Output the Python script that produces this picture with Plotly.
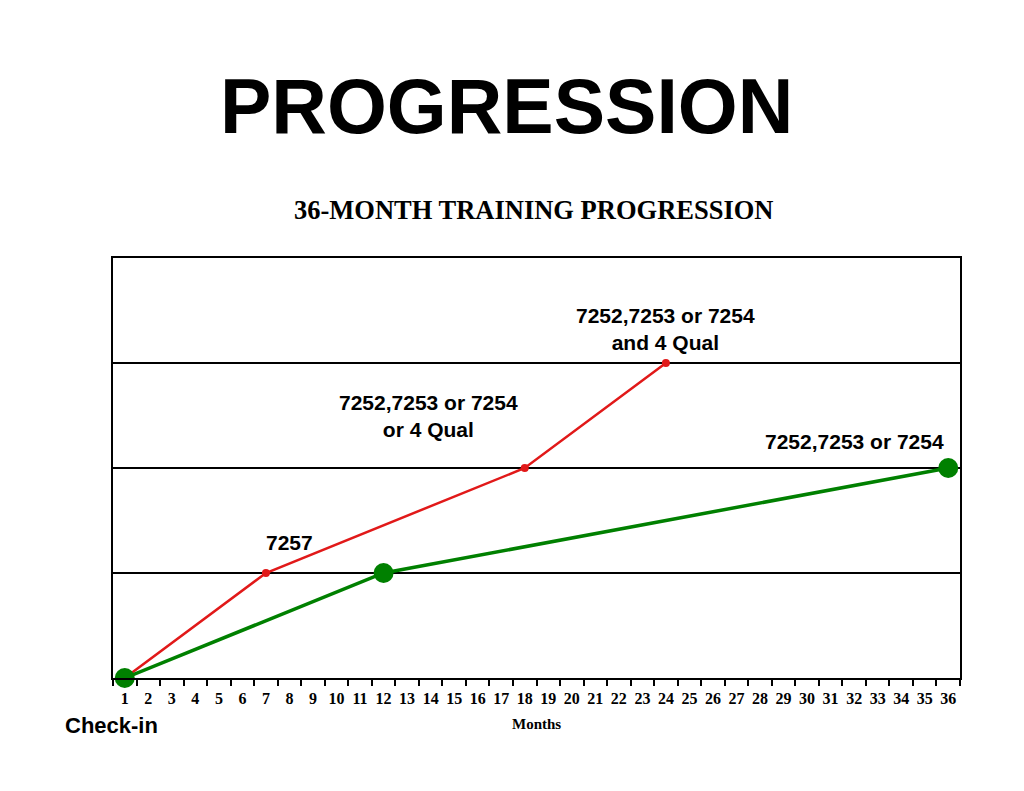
import plotly.graph_objects as go

# Data
months = list(range(1, 37))
red_x = [1, 7, 18, 24]
red_y = [0, 1, 2, 3]
green_x = [1, 12, 36]
green_y = [0, 1, 2]

labels_text = ["7257", "7252,7253 or 7254<br>or 4 Qual", "7252,7253 or 7254<br>and 4 Qual", "7252,7253 or 7254"]
labels_x = [8.0, 13.93, 24.0, 32.0]
labels_y = [1.295, 2.495, 3.32, 2.257]

SANS = "Liberation Sans, Arial, sans-serif"
SERIF = "Liberation Serif, Times New Roman, serif"

fig = go.Figure()
fig.add_trace(go.Scatter(x=red_x, y=red_y, mode="lines+markers",
                         line=dict(color="rgb(225,25,25)", width=2.5),
                         marker=dict(color="rgb(225,25,25)", size=8),
                         cliponaxis=False, showlegend=False))
fig.add_trace(go.Scatter(x=green_x, y=green_y, mode="lines+markers",
                         line=dict(color="rgb(0,128,0)", width=3.5),
                         marker=dict(color="rgb(0,128,0)", size=20),
                         cliponaxis=False, showlegend=False))

for t, x, y in zip(labels_text, labels_x, labels_y):
    fig.add_annotation(x=x, y=y, text="<b>" + t + "</b>", showarrow=False,
                       font=dict(family=SANS, size=21, color="black"),
                       xanchor="center", yanchor="middle")

fig.add_annotation(xref="paper", yref="paper", x=0.465, y=1.362, text="<b>PROGRESSION</b>",
                   showarrow=False, font=dict(family=SANS, size=77, color="black"),
                   xanchor="center", yanchor="middle")
fig.add_annotation(xref="paper", yref="paper", x=0.497, y=1.114, text="<b>36-MONTH TRAINING PROGRESSION</b>",
                   showarrow=False, font=dict(family=SERIF, size=26.5, color="black"),
                   xanchor="center", yanchor="middle")
fig.add_annotation(xref="paper", yref="paper", x=0.5, y=-0.11, text="<b>Months</b>",
                   showarrow=False, font=dict(family=SERIF, size=15, color="black"),
                   xanchor="center", yanchor="middle")
fig.add_annotation(xref="paper", yref="paper", x=-0.002, y=-0.112, text="<b>Check-in</b>",
                   showarrow=False, font=dict(family=SANS, size=22, color="black"),
                   xanchor="center", yanchor="middle")

fig.update_xaxes(range=[0.5, 36.5], tickmode="array", tickvals=months,
                 ticktext=["<b>%d</b>" % m for m in months],
                 tickfont=dict(family=SERIF, size=16, color="black"),
                 ticks="", showgrid=False, zeroline=False,
                 showline=True, linecolor="black", linewidth=2, mirror=True,
                 minor=dict(tickmode="linear", tick0=0.5, dtick=1, ticks="outside", ticklen=6,
                            tickwidth=2, tickcolor="black", showgrid=False),
                 ticklabelstandoff=5)
fig.update_yaxes(range=[0, 4], dtick=1, tick0=0, showticklabels=False, ticks="",
                 showgrid=True, gridcolor="black", gridwidth=1.5, zeroline=False,
                 showline=True, linecolor="black", linewidth=2, mirror=True)

fig.update_layout(width=1024, height=791, plot_bgcolor="white", paper_bgcolor="white",
                  margin=dict(l=105, r=72, t=250, b=121), showlegend=False)

fig.write_html("out.html")
